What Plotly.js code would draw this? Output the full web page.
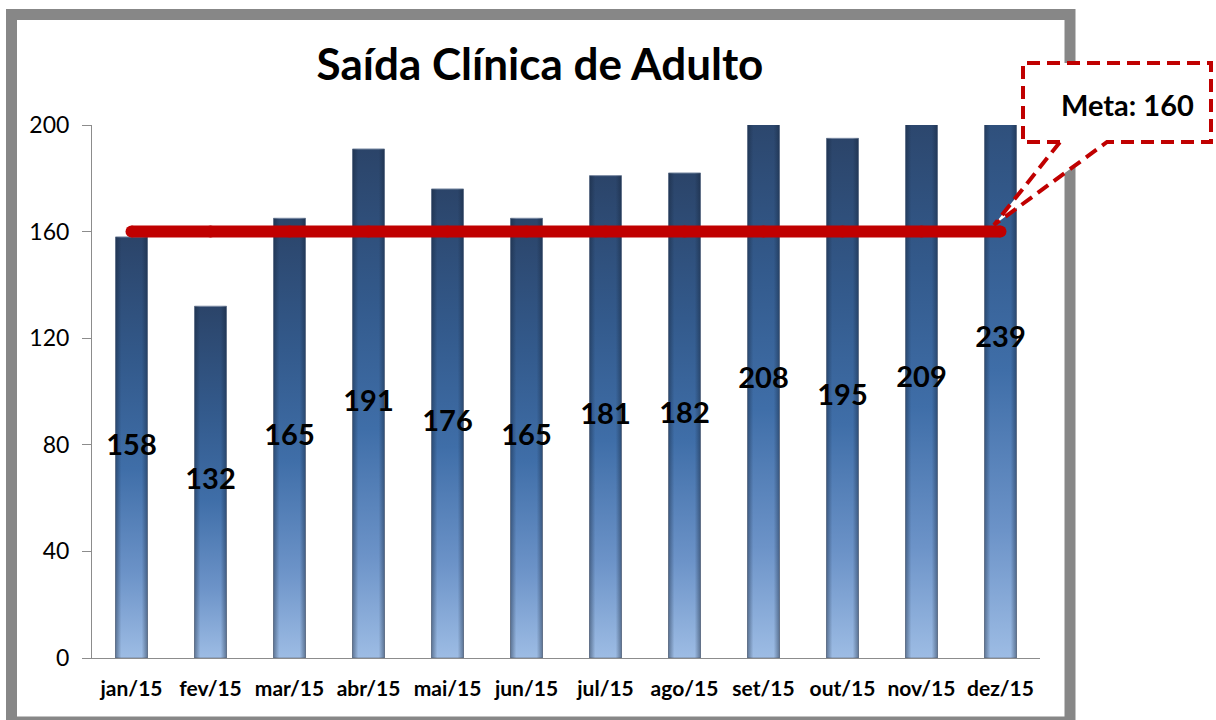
<!DOCTYPE html>
<html><head><meta charset="utf-8">
<script src="https://cdn.plot.ly/plotly-3.0.1.min.js"></script>
<style>html,body{margin:0;padding:0;background:#fff}#chart{width:1216px;height:720px}</style>
</head><body><div id="chart"></div>
<script>
const months = ['jan/15','fev/15','mar/15','abr/15','mai/15','jun/15','jul/15','ago/15','set/15','out/15','nov/15','dez/15'];
const saidas = [158,132,165,191,176,165,181,182,208,195,209,239];
const meta = 160;
const metaLabel = 'Meta: 160';
const titleText = 'Saída Clínica de Adulto';
const yTicks = [0,40,80,120,160,200];

const L=92,R=1040,T=125,B=658;
const px = x => (x-L)/(R-L);
const py = y => (B-y)/(B-T);
const FONT = 'Lato, "Open Sans", sans-serif';

const bars = {
  type:'bar', x:months, y:saidas,
  marker:{color:'#3d6aa3', line:{color:'#7a8aa3', width:1}},
  hoverinfo:'x+y', showlegend:false
};
const labels = {
  type:'scatter', mode:'text', x:months, y:saidas.map(v=>v/2),
  text:saidas.map(String), textposition:'middle center',
  textfont:{family:FONT, size:29, color:'#000', weight:700},
  cliponaxis:false, hoverinfo:'skip', showlegend:false
};
const metaLine = {
  type:'scatter', mode:'lines+markers', x:months, y:months.map(()=>meta),
  line:{color:'#c00000', width:12}, marker:{color:'#c00000', size:12},
  cliponaxis:false, hoverinfo:'skip', showlegend:false
};

const calloutPath = `M ${px(1060)},${py(142)} L ${px(1023)},${py(142)} L ${px(1023)},${py(63)} L ${px(1211)},${py(63)} L ${px(1211)},${py(142)} L ${px(1107)},${py(142)} L ${px(994)},${py(225)} Z`;

const layout = {
  width:1216, height:720,
  margin:{l:L, r:1216-R, t:T, b:720-B, pad:0},
  paper_bgcolor:'#fff', plot_bgcolor:'#fff',
  bargap:0.595,
  title:{text:titleText, font:{family:FONT, size:44, color:'#000', weight:700},
    xref:'container', yref:'container', x:540/1216, xanchor:'center', y:1-65/720, yanchor:'middle'},
  xaxis:{type:'category', range:[-0.5, months.length-0.5], showline:true, linecolor:'#8c8c8c', linewidth:1, ticks:'',
    tickfont:{family:FONT, size:21, color:'#000', weight:700}, showgrid:false, zeroline:false,
    ticklabelstandoff:12, fixedrange:true},
  yaxis:{range:[0,200], tickvals:yTicks, ticktext:yTicks.map(String), showline:true, linecolor:'#8c8c8c', linewidth:1,
    ticks:'outside', ticklen:9, tickcolor:'#8c8c8c', tickwidth:1,
    tickfont:{family:FONT, size:23, color:'#000'}, showgrid:false, zeroline:false,
    ticklabelstandoff:8, fixedrange:true},
  shapes:[
    {type:'rect', xref:'paper', yref:'paper', x0:px(11.5), x1:px(1070), y0:py(14.5), y1:py(722),
      line:{color:'#878787', width:11}, fillcolor:'rgba(0,0,0,0)', layer:'below'},
    {type:'path', xref:'paper', yref:'paper', path:calloutPath,
      line:{color:'#c00000', width:4, dash:'13px,7px'}, fillcolor:'#fff', layer:'above'}
  ],
  annotations:[
    {xref:'paper', yref:'paper', x:px(1127), y:py(104), xanchor:'center', yanchor:'middle',
      text:metaLabel, showarrow:false, font:{family:FONT, size:29, color:'#000', weight:700}}
  ]
};

Plotly.newPlot('chart', [bars, metaLine, labels], layout, {displayModeBar:false, staticPlot:true}).then(gd => {
  const svg = gd.querySelector('svg.main-svg');
  const NS = 'http://www.w3.org/2000/svg';
  let defs = svg.querySelector('defs');
  if (!defs) { defs = document.createElementNS(NS,'defs'); svg.insertBefore(defs, svg.firstChild); }
  function grad(id, horiz, stops){
    const g = document.createElementNS(NS,'linearGradient');
    g.setAttribute('id', id);
    g.setAttribute('x1','0'); g.setAttribute('y1','0');
    g.setAttribute('x2', horiz?'1':'0'); g.setAttribute('y2', horiz?'0':'1');
    stops.forEach(s=>{const st=document.createElementNS(NS,'stop');st.setAttribute('offset',s[0]);st.setAttribute('stop-color',s[1]);st.setAttribute('stop-opacity',s[2]===undefined?1:s[2]);g.appendChild(st);});
    defs.appendChild(g);
  }
  grad('bargrad', false, [['0','#2b4469'],['0.3','#335a8c'],['0.55','#3f6ea8'],['0.8','#6c93c8'],['1','#9dbce4']]);
  grad('edgegrad', true, [['0','#142236',0.45],['0.18','#142236',0],['0.82','#142236',0],['1','#142236',0.45]]);
  gd.querySelectorAll('.barlayer .point path').forEach(p=>{
    p.style.fill = 'url(#bargrad)';
    const c = p.cloneNode(true);
    c.style.fill = 'url(#edgegrad)';
    c.style.stroke = 'none';
    p.parentNode.appendChild(c);
  });
});
</script>
</body></html>
